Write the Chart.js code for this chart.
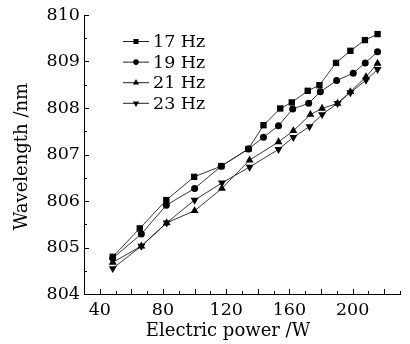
<!DOCTYPE html>
<html><head><meta charset="utf-8">
<script src="https://cdn.jsdelivr.net/npm/chart.js@4/dist/chart.umd.min.js"></script>
<style>html,body{margin:0;padding:0;background:#fff}#wrap{width:410px;height:344px}</style>
</head><body><div id="wrap"><canvas id="c" width="410" height="344"></canvas></div>
<script>
const seriesLabels = ['17 Hz', '19 Hz', '21 Hz', '23 Hz'];
const power17 = [48.2, 65.3, 82.1, 99.7, 116.9, 134.1, 143.6, 154.2, 161.5, 171.6, 179.0, 189.5, 198.6, 207.8, 215.8];
const wl17    = [804.80, 805.41, 806.02, 806.52, 806.75, 807.12, 807.63, 807.99, 808.12, 808.37, 808.49, 808.97, 809.23, 809.46, 809.59];
const power19 = [48.2, 66.3, 82.1, 100.0, 116.9, 134.1, 143.6, 153.1, 162.1, 172.2, 179.6, 189.9, 200.4, 208.0, 215.8];
const wl19    = [804.77, 805.29, 805.91, 806.27, 806.75, 807.12, 807.37, 807.62, 807.98, 808.10, 808.35, 808.59, 808.75, 808.97, 809.21];
const power21 = [48.2, 66.3, 82.3, 100.0, 117.3, 134.8, 153.1, 162.5, 173.3, 180.7, 190.5, 198.6, 208.5, 215.8];
const wl21    = [804.68, 805.03, 805.53, 805.79, 806.27, 806.88, 807.27, 807.51, 807.86, 807.99, 808.10, 808.35, 808.67, 808.96];
const power23 = [48.2, 66.3, 82.3, 100.0, 117.3, 134.8, 153.1, 162.5, 172.7, 180.7, 190.5, 198.6, 208.5, 215.8];
const wl23    = [804.55, 805.03, 805.53, 806.02, 806.39, 806.73, 807.11, 807.37, 807.60, 807.86, 808.10, 808.33, 808.60, 808.83];
const xTickLabels = [40, 80, 120, 160, 200];
const yTickLabels = [804, 805, 806, 807, 808, 809, 810];
const xTitle = 'Electric power /W';
const yTitle = 'Wavelength /nm';

const FONT = 'DejaVu Serif';
const pts = (xs, ys) => xs.map((x, i) => ({x: x, y: ys[i]}));
const styles = [
  {pointStyle: 'rect', radius: 4.5, rotation: 0},
  {pointStyle: 'circle', radius: 3.5, rotation: 0},
  {pointStyle: 'triangle', radius: 4.6, rotation: 0},
  {pointStyle: 'triangle', radius: 4.6, rotation: 180}
];
const allData = [pts(power17, wl17), pts(power19, wl19), pts(power21, wl21), pts(power23, wl23)];
const datasets = allData.map((d, i) => ({
  label: seriesLabels[i], data: d,
  borderColor: '#222', borderWidth: 0.9,
  backgroundColor: '#000', pointBackgroundColor: '#000', pointBorderColor: '#000', pointBorderWidth: 0,
  pointStyle: styles[i].pointStyle, pointRadius: styles[i].radius, pointRotation: styles[i].rotation,
  pointHoverRadius: styles[i].radius, tension: 0, fill: false
}));

const ticksPlugin = {
  id: 'inwardTicks',
  afterDraw(chart) {
    const ctx = chart.ctx, xs = chart.scales.x, ys = chart.scales.y;
    ctx.save(); ctx.strokeStyle = '#000'; ctx.lineWidth = 1;
    for (let v = xs.min; v <= xs.max + 1e-6; v += 10) {
      const p = Math.round(xs.getPixelForValue(v)) + 0.5;
      const len = (Math.round(v) % 20 === 0) ? 5 : 3;
      ctx.beginPath(); ctx.moveTo(p, xs.top); ctx.lineTo(p, xs.top - len); ctx.stroke();
    }
    for (let k = 0; k <= (ys.max - ys.min) * 2; k++) {
      const v = ys.min + k * 0.5;
      const p = Math.round(ys.getPixelForValue(v)) + 0.5;
      const len = (k % 2 === 0) ? 5 : 3;
      ctx.beginPath(); ctx.moveTo(ys.right, p); ctx.lineTo(ys.right + len, p); ctx.stroke();
    }
    // axis titles
    ctx.fillStyle = '#000';
    ctx.font = '18px "' + FONT + '"';
    ctx.textAlign = 'center'; ctx.textBaseline = 'middle';
    ctx.fillText(xTitle, (xs.left + xs.right) / 2 - 14, xs.bottom - 13);
    ctx.save();
    ctx.translate(22, (ys.top + ys.bottom) / 2 + 2);
    ctx.rotate(-Math.PI / 2);
    ctx.fillText(yTitle, 0, 0);
    ctx.restore();
    ctx.restore();
  }
};

const legendPlugin = {
  id: 'lineLegend',
  afterDraw(chart) {
    const ctx = chart.ctx, a = chart.chartArea;
    ctx.save();
    chart.data.datasets.forEach((ds, i) => {
      const y = a.top + 26.5 + i * 20.6;
      const x0 = a.left + 39;
      ctx.strokeStyle = '#222'; ctx.lineWidth = 1;
      ctx.beginPath(); ctx.moveTo(x0, y); ctx.lineTo(x0 + 26, y); ctx.stroke();
      ctx.fillStyle = '#000'; ctx.strokeStyle = '#000';
      Chart.helpers.drawPoint(ctx, {pointStyle: ds.pointStyle, radius: ds.pointRadius * 0.8, rotation: ds.pointRotation, borderWidth: 0}, x0 + 13, y);
      ctx.fillStyle = '#000';
      ctx.font = '17.5px "' + FONT + '"';
      ctx.textBaseline = 'middle'; ctx.textAlign = 'left';
      ctx.fillText(ds.label, x0 + 30, y + 1);
    });
    ctx.restore();
  }
};

new Chart(document.getElementById('c'), {
  type: 'line',
  data: {datasets: datasets},
  options: {
    responsive: false, animation: false, devicePixelRatio: 1,
    layout: {padding: {top: 15, right: 10, left: 0, bottom: 0}},
    plugins: {legend: {display: false}, tooltip: {enabled: false}},
    scales: {
      x: {
        type: 'linear', min: 30, max: 230,
        afterFit(s) { s.height = 50; },
        grid: {display: false, drawTicks: false},
        border: {display: true, color: '#000', width: 1},
        ticks: {
          stepSize: 10, autoSkip: false, maxRotation: 0, padding: 6, color: '#000',
          font: {family: FONT, size: 17.5},
          callback: v => xTickLabels.includes(v) ? String(v) : ''
        },
        title: {display: false}
      },
      y: {
        type: 'linear', min: 804, max: 810,
        afterFit(s) { s.width = 84; },
        grid: {display: false, drawTicks: false},
        border: {display: true, color: '#000', width: 1},
        ticks: {
          stepSize: 1, autoSkip: false, padding: 4, color: '#000',
          font: {family: FONT, size: 17.5},
          callback: v => yTickLabels.includes(v) ? String(v) : ''
        },
        title: {display: false}
      }
    }
  },
  plugins: [ticksPlugin, legendPlugin]
});
</script>
</body></html>
